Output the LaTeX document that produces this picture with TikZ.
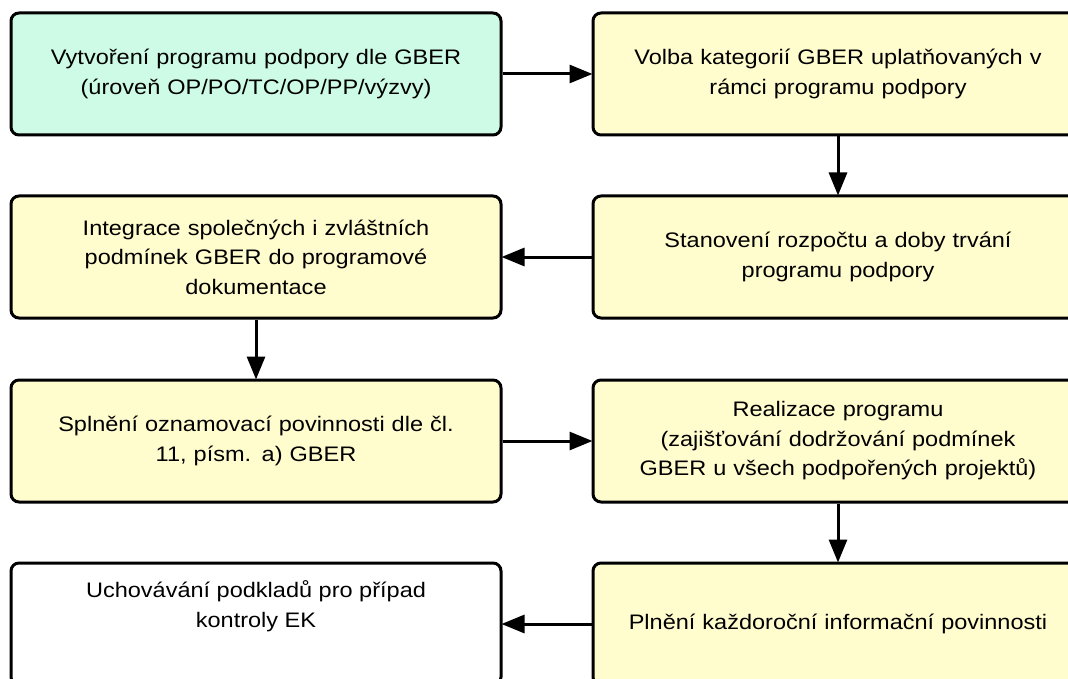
\documentclass[tikz,border=0pt]{standalone}
\usepackage{fontspec}
\setmainfont{Liberation Sans}[FakeStretch=1.12]
\usetikzlibrary{arrows.meta}
\definecolor{mint}{RGB}{206,251,229}
\definecolor{paleyellow}{RGB}{255,252,205}
\tikzset{
  box/.style={draw=black, line width=3pt, rounded corners=8pt,
    minimum width=490pt, minimum height=122pt, inner sep=0pt,
    align=center, text width=470pt,
    font=\fontsize{21}{29.5}\selectfont},
  conn/.style={line width=3pt, -{Triangle[length=23pt,width=18pt]}, shorten >=-1pt}
}
\begin{document}
\begin{tikzpicture}[x=1pt,y=-1pt]
\clip (0,0) rectangle (1068,679);
\fill[white] (0,0) rectangle (1068,679);
\node[box, fill=mint] (l1) at (256,74) {Vytvoření programu podpory dle GBER\\(úroveň OP/PO/TC/OP/PP/výzvy)};
\node[box, fill=paleyellow] (r1) at (838,74) {Volba kategorií GBER uplatňovaných v\\rámci programu podpory};
\node[box, fill=paleyellow] (r2) at (838,257) {Stanovení rozpočtu a doby trvání\\programu podpory};
\node[box, fill=paleyellow] (l2) at (256,257) {Integrace společných i zvláštních\\podmínek GBER do programové\\dokumentace};
\node[box, fill=paleyellow] (l3) at (256,441) {Splnění oznamovací povinnosti dle čl.\\11, písm. a) GBER};
\node[box, fill=paleyellow] (r3) at (838,441) {Realizace programu\\(zajišťování dodržování podmínek\\GBER u všech podpořených projektů)};
\node[box, fill=paleyellow] (r4) at (838,624) {Plnění každoroční informační povinnosti};
\node[box, fill=white] (l4) at (256,624) {};
\node[align=center, font=\fontsize{21}{29.5}\selectfont] (l4t) at (256,606) {Uchovávání podkladů pro případ\\kontroly EK};
\draw[conn] (l1) -- (r1);
\draw[conn] (r1) -- (r2);
\draw[conn] (r2) -- (l2);
\draw[conn] (l2) -- (l3);
\draw[conn] (l3) -- (r3);
\draw[conn] (r3) -- (r4);
\draw[conn] (r4) -- (l4);
\end{tikzpicture}
\end{document}
